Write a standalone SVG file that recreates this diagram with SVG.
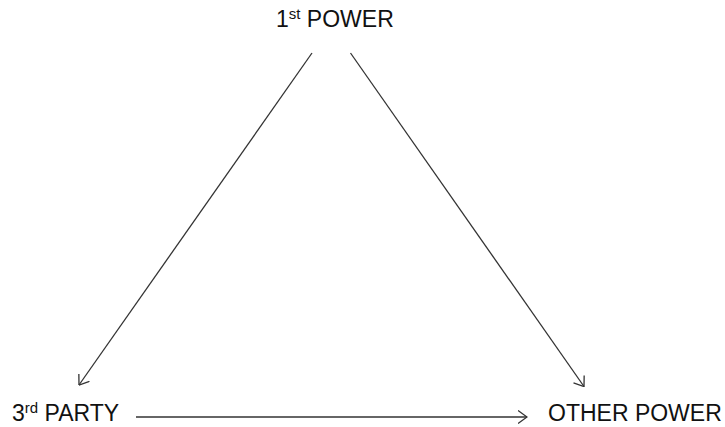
<svg xmlns="http://www.w3.org/2000/svg" width="725" height="427" viewBox="0 0 725 427">
<style>
text{font-family:"Liberation Sans",Arial,sans-serif;font-size:23px;fill:#111}
.sup{font-size:15px}
.conn line{stroke:#333;stroke-width:1.3;fill:none}
</style>
<defs>
<marker id="arr" viewBox="0 0 10 14" refX="9.5" refY="7" markerWidth="10" markerHeight="14" markerUnits="userSpaceOnUse" orient="auto">
<path d="M0.5,0.5 L9.5,7 L0.5,13.5" fill="none" stroke="#333" stroke-width="1.3"/>
</marker>
</defs>
<rect width="725" height="427" fill="#fff"/>
<g id="first-power"><text x="276" y="27">1<tspan class="sup" dy="-8">st</tspan><tspan dy="8"> POWER</tspan></text></g>
<g id="third-party"><text x="12" y="421">3<tspan class="sup" dy="-8">rd</tspan><tspan dy="8"> PARTY</tspan></text></g>
<g id="other-power"><text x="548" y="421">OTHER POWER</text></g>
<g class="conn" id="connectors">
<line x1="312" y1="53" x2="79" y2="385" marker-end="url(#arr)"/>
<line x1="350.5" y1="53" x2="584" y2="386.5" marker-end="url(#arr)"/>
<line x1="136" y1="417" x2="527" y2="417" marker-end="url(#arr)"/>
</g>
</svg>
